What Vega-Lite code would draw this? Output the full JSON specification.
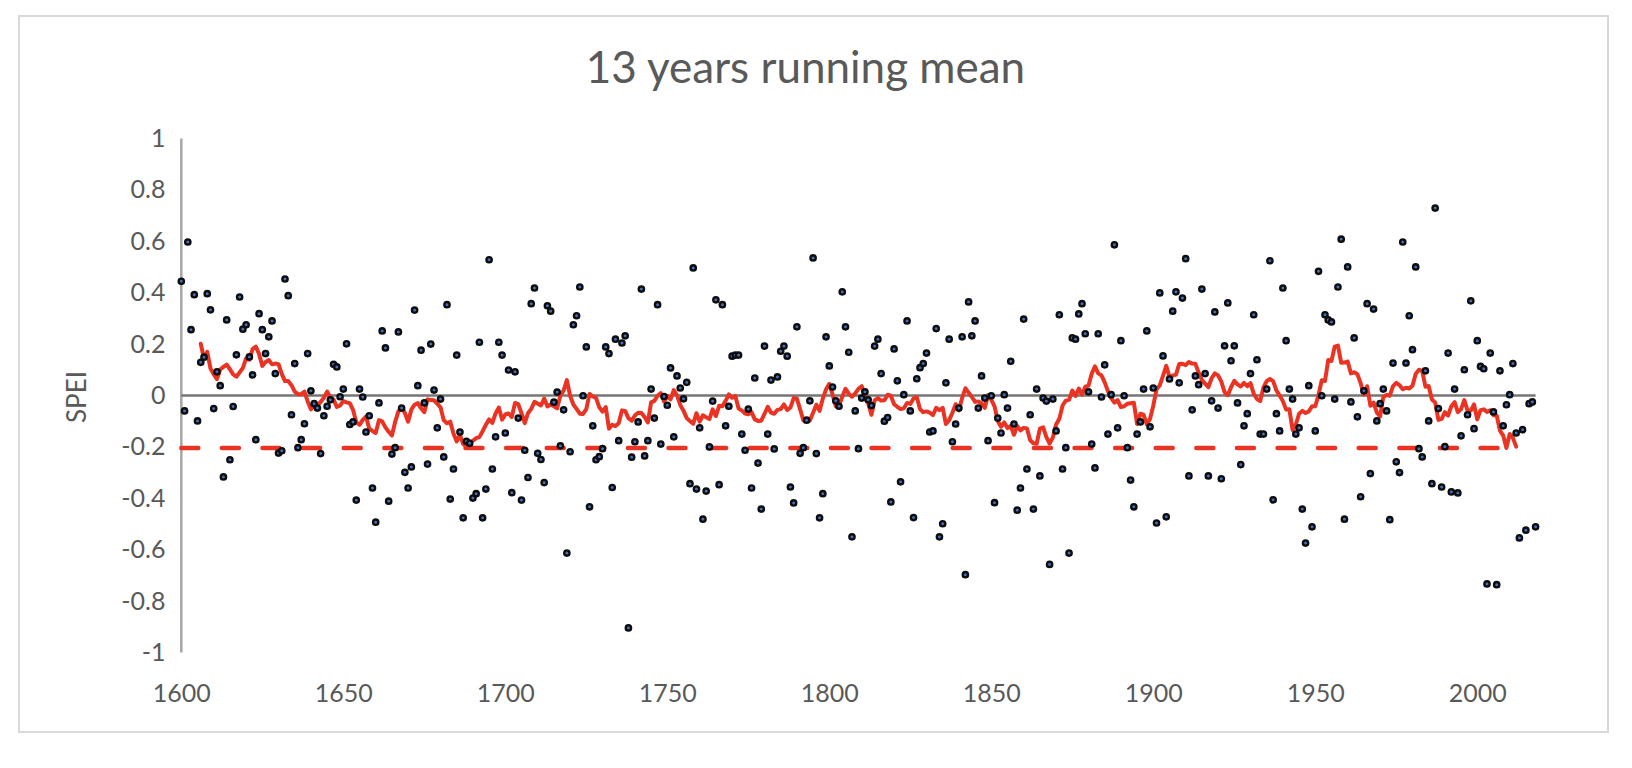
{
  "$schema": "https://vega.github.io/schema/vega-lite/v6.json",
  "autosize": {"type": "none"},
  "padding": {"left": 19, "top": 16, "right": 24, "bottom": 36},
  "width": 1589,
  "height": 716,
  "background": "white",
  "config": {"view": {"stroke": "#d9d9d9", "strokeWidth": 2}, "font": "Lato"},
  "title": {"text": "13 years running mean", "fontSize": 44, "font": "Lato", "fontWeight": "normal", "color": "#595959", "offset": -76, "dx": -8, "anchor": "middle", "frame": "group"},
  "datasets": {
    "spei": [
{"year":1600,"spei":0.444},{"year":1601,"spei":-0.06},{"year":1602,"spei":0.597},{"year":1603,"spei":0.256},{"year":1604,"spei":0.392},{"year":1605,"spei":-0.099},{"year":1606,"spei":0.129},{"year":1607,"spei":0.149},{"year":1608,"spei":0.396},{"year":1609,"spei":0.333},
{"year":1610,"spei":-0.051},{"year":1611,"spei":0.092},{"year":1612,"spei":0.038},{"year":1613,"spei":-0.317},{"year":1614,"spei":0.294},{"year":1615,"spei":-0.25},{"year":1616,"spei":-0.043},{"year":1617,"spei":0.158},{"year":1618,"spei":0.383},{"year":1619,"spei":0.258},
{"year":1620,"spei":0.275},{"year":1621,"spei":0.15},{"year":1622,"spei":0.08},{"year":1623,"spei":-0.172},{"year":1624,"spei":0.318},{"year":1625,"spei":0.256},{"year":1626,"spei":0.163},{"year":1627,"spei":0.228},{"year":1628,"spei":0.29},{"year":1629,"spei":0.085},
{"year":1630,"spei":-0.224},{"year":1631,"spei":-0.215},{"year":1632,"spei":0.453},{"year":1633,"spei":0.388},{"year":1634,"spei":-0.075},{"year":1635,"spei":0.124},{"year":1636,"spei":-0.203},{"year":1637,"spei":-0.172},{"year":1638,"spei":-0.11},{"year":1639,"spei":0.163},
{"year":1640,"spei":0.018},{"year":1641,"spei":-0.032},{"year":1642,"spei":-0.049},{"year":1643,"spei":-0.226},{"year":1644,"spei":-0.079},{"year":1645,"spei":-0.042},{"year":1646,"spei":-0.017},{"year":1647,"spei":0.121},{"year":1648,"spei":0.111},{"year":1649,"spei":-0.005},
{"year":1650,"spei":0.025},{"year":1651,"spei":0.201},{"year":1652,"spei":-0.113},{"year":1653,"spei":-0.103},{"year":1654,"spei":-0.407},{"year":1655,"spei":0.025},{"year":1656,"spei":-0.006},{"year":1657,"spei":-0.142},{"year":1658,"spei":-0.079},{"year":1659,"spei":-0.36},
{"year":1660,"spei":-0.493},{"year":1661,"spei":-0.029},{"year":1662,"spei":0.251},{"year":1663,"spei":0.185},{"year":1664,"spei":-0.411},{"year":1665,"spei":-0.228},{"year":1666,"spei":-0.203},{"year":1667,"spei":0.247},{"year":1668,"spei":-0.049},{"year":1669,"spei":-0.299},
{"year":1670,"spei":-0.36},{"year":1671,"spei":-0.278},{"year":1672,"spei":0.332},{"year":1673,"spei":0.038},{"year":1674,"spei":0.176},{"year":1675,"spei":-0.029},{"year":1676,"spei":-0.267},{"year":1677,"spei":0.2},{"year":1678,"spei":0.021},{"year":1679,"spei":-0.126},
{"year":1680,"spei":-0.014},{"year":1681,"spei":-0.239},{"year":1682,"spei":0.353},{"year":1683,"spei":-0.403},{"year":1684,"spei":-0.286},{"year":1685,"spei":0.157},{"year":1686,"spei":-0.142},{"year":1687,"spei":-0.476},{"year":1688,"spei":-0.178},{"year":1689,"spei":-0.186},
{"year":1690,"spei":-0.399},{"year":1691,"spei":-0.382},{"year":1692,"spei":0.207},{"year":1693,"spei":-0.476},{"year":1694,"spei":-0.364},{"year":1695,"spei":0.528},{"year":1696,"spei":-0.286},{"year":1697,"spei":-0.161},{"year":1698,"spei":0.207},{"year":1699,"spei":0.157},
{"year":1700,"spei":-0.146},{"year":1701,"spei":0.099},{"year":1702,"spei":-0.378},{"year":1703,"spei":0.092},{"year":1704,"spei":-0.088},{"year":1705,"spei":-0.407},{"year":1706,"spei":-0.213},{"year":1707,"spei":-0.319},{"year":1708,"spei":0.357},{"year":1709,"spei":0.418},
{"year":1710,"spei":-0.225},{"year":1711,"spei":-0.249},{"year":1712,"spei":-0.339},{"year":1713,"spei":0.349},{"year":1714,"spei":0.328},{"year":1715,"spei":-0.026},{"year":1716,"spei":0.013},{"year":1717,"spei":-0.196},{"year":1718,"spei":-0.056},{"year":1719,"spei":-0.613},
{"year":1720,"spei":-0.219},{"year":1721,"spei":0.275},{"year":1722,"spei":0.31},{"year":1723,"spei":0.422},{"year":1724,"spei":-0.001},{"year":1725,"spei":0.189},{"year":1726,"spei":-0.433},{"year":1727,"spei":-0.118},{"year":1728,"spei":-0.25},{"year":1729,"spei":-0.238},
{"year":1730,"spei":-0.207},{"year":1731,"spei":0.189},{"year":1732,"spei":0.163},{"year":1733,"spei":-0.358},{"year":1734,"spei":0.219},{"year":1735,"spei":-0.176},{"year":1736,"spei":0.204},{"year":1737,"spei":0.232},{"year":1738,"spei":-0.904},{"year":1739,"spei":-0.24},
{"year":1740,"spei":-0.18},{"year":1741,"spei":-0.103},{"year":1742,"spei":0.414},{"year":1743,"spei":-0.235},{"year":1744,"spei":-0.176},{"year":1745,"spei":0.025},{"year":1746,"spei":-0.088},{"year":1747,"spei":0.353},{"year":1748,"spei":-0.189},{"year":1749,"spei":-0.004},
{"year":1750,"spei":-0.038},{"year":1751,"spei":0.107},{"year":1752,"spei":-0.161},{"year":1753,"spei":0.076},{"year":1754,"spei":0.029},{"year":1755,"spei":-0.013},{"year":1756,"spei":0.051},{"year":1757,"spei":-0.343},{"year":1758,"spei":0.496},{"year":1759,"spei":-0.364},
{"year":1760,"spei":-0.126},{"year":1761,"spei":-0.481},{"year":1762,"spei":-0.372},{"year":1763,"spei":-0.2},{"year":1764,"spei":-0.022},{"year":1765,"spei":0.372},{"year":1766,"spei":-0.347},{"year":1767,"spei":0.353},{"year":1768,"spei":-0.118},{"year":1769,"spei":-0.042},
{"year":1770,"spei":0.153},{"year":1771,"spei":0.157},{"year":1772,"spei":0.157},{"year":1773,"spei":-0.15},{"year":1774,"spei":-0.213},{"year":1775,"spei":-0.053},{"year":1776,"spei":-0.36},{"year":1777,"spei":0.068},{"year":1778,"spei":-0.263},{"year":1779,"spei":-0.442},
{"year":1780,"spei":0.192},{"year":1781,"spei":-0.15},{"year":1782,"spei":0.06},{"year":1783,"spei":-0.208},{"year":1784,"spei":0.072},{"year":1785,"spei":0.172},{"year":1786,"spei":0.192},{"year":1787,"spei":0.153},{"year":1788,"spei":-0.356},{"year":1789,"spei":-0.418},
{"year":1790,"spei":0.267},{"year":1791,"spei":-0.225},{"year":1792,"spei":-0.203},{"year":1793,"spei":-0.096},{"year":1794,"spei":-0.021},{"year":1795,"spei":0.535},{"year":1796,"spei":-0.226},{"year":1797,"spei":-0.476},{"year":1798,"spei":-0.382},{"year":1799,"spei":0.228},
{"year":1800,"spei":0.115},{"year":1801,"spei":0.033},{"year":1802,"spei":-0.021},{"year":1803,"spei":-0.042},{"year":1804,"spei":0.403},{"year":1805,"spei":0.267},{"year":1806,"spei":0.168},{"year":1807,"spei":-0.55},{"year":1808,"spei":-0.06},{"year":1809,"spei":-0.207},
{"year":1810,"spei":-0.01},{"year":1811,"spei":0.014},{"year":1812,"spei":-0.017},{"year":1813,"spei":-0.039},{"year":1814,"spei":0.192},{"year":1815,"spei":0.219},{"year":1816,"spei":0.085},{"year":1817,"spei":-0.1},{"year":1818,"spei":-0.086},{"year":1819,"spei":-0.414},
{"year":1820,"spei":0.181},{"year":1821,"spei":0.057},{"year":1822,"spei":-0.336},{"year":1823,"spei":0.003},{"year":1824,"spei":0.29},{"year":1825,"spei":-0.06},{"year":1826,"spei":-0.475},{"year":1827,"spei":0.065},{"year":1828,"spei":0.108},{"year":1829,"spei":0.124},
{"year":1830,"spei":0.165},{"year":1831,"spei":-0.142},{"year":1832,"spei":-0.138},{"year":1833,"spei":0.26},{"year":1834,"spei":-0.55},{"year":1835,"spei":-0.499},{"year":1836,"spei":0.049},{"year":1837,"spei":0.219},{"year":1838,"spei":-0.18},{"year":1839,"spei":-0.111},
{"year":1840,"spei":-0.049},{"year":1841,"spei":0.228},{"year":1842,"spei":-0.697},{"year":1843,"spei":0.364},{"year":1844,"spei":0.232},{"year":1845,"spei":0.29},{"year":1846,"spei":-0.049},{"year":1847,"spei":0.076},{"year":1848,"spei":-0.01},{"year":1849,"spei":-0.176},
{"year":1850,"spei":-0.001},{"year":1851,"spei":-0.417},{"year":1852,"spei":-0.088},{"year":1853,"spei":-0.146},{"year":1854,"spei":0.003},{"year":1855,"spei":-0.049},{"year":1856,"spei":0.133},{"year":1857,"spei":-0.111},{"year":1858,"spei":-0.446},{"year":1859,"spei":-0.36},
{"year":1860,"spei":0.297},{"year":1861,"spei":-0.286},{"year":1862,"spei":-0.075},{"year":1863,"spei":-0.442},{"year":1864,"spei":0.025},{"year":1865,"spei":-0.313},{"year":1866,"spei":-0.01},{"year":1867,"spei":-0.022},{"year":1868,"spei":-0.657},{"year":1869,"spei":-0.014},
{"year":1870,"spei":-0.138},{"year":1871,"spei":0.314},{"year":1872,"spei":-0.286},{"year":1873,"spei":-0.203},{"year":1874,"spei":-0.613},{"year":1875,"spei":0.224},{"year":1876,"spei":0.219},{"year":1877,"spei":0.317},{"year":1878,"spei":0.357},{"year":1879,"spei":0.24},
{"year":1880,"spei":0.014},{"year":1881,"spei":-0.189},{"year":1882,"spei":-0.282},{"year":1883,"spei":0.24},{"year":1884,"spei":-0.006},{"year":1885,"spei":0.119},{"year":1886,"spei":-0.15},{"year":1887,"spei":0.003},{"year":1888,"spei":0.586},{"year":1889,"spei":-0.126},
{"year":1890,"spei":0.213},{"year":1891,"spei":-0.001},{"year":1892,"spei":-0.203},{"year":1893,"spei":-0.329},{"year":1894,"spei":-0.433},{"year":1895,"spei":-0.15},{"year":1896,"spei":-0.103},{"year":1897,"spei":0.025},{"year":1898,"spei":0.251},{"year":1899,"spei":-0.122},
{"year":1900,"spei":0.029},{"year":1901,"spei":-0.496},{"year":1902,"spei":0.399},{"year":1903,"spei":0.154},{"year":1904,"spei":-0.472},{"year":1905,"spei":0.064},{"year":1906,"spei":0.328},{"year":1907,"spei":0.403},{"year":1908,"spei":0.049},{"year":1909,"spei":0.379},
{"year":1910,"spei":0.532},{"year":1911,"spei":-0.313},{"year":1912,"spei":-0.056},{"year":1913,"spei":0.076},{"year":1914,"spei":0.042},{"year":1915,"spei":0.414},{"year":1916,"spei":0.085},{"year":1917,"spei":-0.313},{"year":1918,"spei":-0.021},{"year":1919,"spei":0.325},
{"year":1920,"spei":-0.049},{"year":1921,"spei":-0.324},{"year":1922,"spei":0.193},{"year":1923,"spei":0.36},{"year":1924,"spei":0.135},{"year":1925,"spei":0.193},{"year":1926,"spei":-0.029},{"year":1927,"spei":-0.269},{"year":1928,"spei":-0.118},{"year":1929,"spei":-0.071},
{"year":1930,"spei":0.085},{"year":1931,"spei":0.314},{"year":1932,"spei":0.139},{"year":1933,"spei":-0.15},{"year":1934,"spei":-0.15},{"year":1935,"spei":0.025},{"year":1936,"spei":0.524},{"year":1937,"spei":-0.406},{"year":1938,"spei":-0.071},{"year":1939,"spei":-0.138},
{"year":1940,"spei":0.418},{"year":1941,"spei":0.213},{"year":1942,"spei":0.025},{"year":1943,"spei":-0.014},{"year":1944,"spei":-0.15},{"year":1945,"spei":-0.126},{"year":1946,"spei":-0.442},{"year":1947,"spei":-0.574},{"year":1948,"spei":0.038},{"year":1949,"spei":-0.511},
{"year":1950,"spei":-0.138},{"year":1951,"spei":0.483},{"year":1952,"spei":-0.001},{"year":1953,"spei":0.314},{"year":1954,"spei":0.294},{"year":1955,"spei":0.286},{"year":1956,"spei":-0.014},{"year":1957,"spei":0.422},{"year":1958,"spei":0.608},{"year":1959,"spei":-0.481},
{"year":1960,"spei":0.5},{"year":1961,"spei":-0.025},{"year":1962,"spei":0.224},{"year":1963,"spei":-0.083},{"year":1964,"spei":-0.394},{"year":1965,"spei":0.018},{"year":1966,"spei":0.357},{"year":1967,"spei":-0.304},{"year":1968,"spei":0.336},{"year":1969,"spei":-0.099},
{"year":1970,"spei":-0.032},{"year":1971,"spei":0.025},{"year":1972,"spei":-0.06},{"year":1973,"spei":-0.483},{"year":1974,"spei":0.126},{"year":1975,"spei":-0.258},{"year":1976,"spei":-0.3},{"year":1977,"spei":0.597},{"year":1978,"spei":0.126},{"year":1979,"spei":0.31},
{"year":1980,"spei":0.178},{"year":1981,"spei":0.5},{"year":1982,"spei":-0.207},{"year":1983,"spei":-0.239},{"year":1984,"spei":0.096},{"year":1985,"spei":-0.099},{"year":1986,"spei":-0.343},{"year":1987,"spei":0.729},{"year":1988,"spei":-0.051},{"year":1989,"spei":-0.356},
{"year":1990,"spei":-0.199},{"year":1991,"spei":0.165},{"year":1992,"spei":-0.375},{"year":1993,"spei":0.025},{"year":1994,"spei":-0.379},{"year":1995,"spei":-0.157},{"year":1996,"spei":0.1},{"year":1997,"spei":-0.075},{"year":1998,"spei":0.368},{"year":1999,"spei":-0.129},
{"year":2000,"spei":0.213},{"year":2001,"spei":0.113},{"year":2002,"spei":0.104},{"year":2003,"spei":-0.733},{"year":2004,"spei":0.165},{"year":2005,"spei":-0.064},{"year":2006,"spei":-0.736},{"year":2007,"spei":0.096},{"year":2008,"spei":-0.118},{"year":2009,"spei":-0.036},
{"year":2010,"spei":0.003},{"year":2011,"spei":0.124},{"year":2012,"spei":-0.146},{"year":2013,"spei":-0.554},{"year":2014,"spei":-0.133},{"year":2015,"spei":-0.524},{"year":2016,"spei":-0.032},{"year":2017,"spei":-0.025},{"year":2018,"spei":-0.511}
    ],
    "mean": [
{"year":1606,"mean":0.201},{"year":1607,"mean":0.143},{"year":1608,"mean":0.17},{"year":1609,"mean":0.105},{"year":1610,"mean":0.082},{"year":1611,"mean":0.064},{"year":1612,"mean":0.101},{"year":1613,"mean":0.111},{"year":1614,"mean":0.12},{"year":1615,"mean":0.102},
{"year":1616,"mean":0.082},{"year":1617,"mean":0.073},{"year":1618,"mean":0.09},{"year":1619,"mean":0.107},{"year":1620,"mean":0.144},{"year":1621,"mean":0.139},{"year":1622,"mean":0.18},{"year":1623,"mean":0.19},{"year":1624,"mean":0.161},{"year":1625,"mean":0.115},
{"year":1626,"mean":0.13},{"year":1627,"mean":0.138},{"year":1628,"mean":0.121},{"year":1629,"mean":0.124},{"year":1630,"mean":0.122},{"year":1631,"mean":0.084},{"year":1632,"mean":0.056},{"year":1633,"mean":0.056},{"year":1634,"mean":0.04},{"year":1635,"mean":0.015},
{"year":1636,"mean":0.005},{"year":1637,"mean":0.005},{"year":1638,"mean":0.015},{"year":1639,"mean":-0.023},{"year":1640,"mean":-0.054},{"year":1641,"mean":-0.039},{"year":1642,"mean":-0.04},{"year":1643,"mean":-0.025},{"year":1644,"mean":-0.009},{"year":1645,"mean":0.015},
{"year":1646,"mean":-0.007},{"year":1647,"mean":-0.016},{"year":1648,"mean":-0.045},{"year":1649,"mean":-0.039},{"year":1650,"mean":-0.022},{"year":1651,"mean":-0.027},{"year":1652,"mean":-0.03},{"year":1653,"mean":-0.056},{"year":1654,"mean":-0.104},{"year":1655,"mean":-0.114},
{"year":1656,"mean":-0.095},{"year":1657,"mean":-0.082},{"year":1658,"mean":-0.129},{"year":1659,"mean":-0.138},{"year":1660,"mean":-0.146},{"year":1661,"mean":-0.096},{"year":1662,"mean":-0.101},{"year":1663,"mean":-0.124},{"year":1664,"mean":-0.141},{"year":1665,"mean":-0.156},
{"year":1666,"mean":-0.103},{"year":1667,"mean":-0.062},{"year":1668,"mean":-0.046},{"year":1669,"mean":-0.068},{"year":1670,"mean":-0.102},{"year":1671,"mean":-0.055},{"year":1672,"mean":-0.036},{"year":1673,"mean":-0.03},{"year":1674,"mean":-0.05},{"year":1675,"mean":-0.065},
{"year":1676,"mean":-0.015},{"year":1677,"mean":-0.018},{"year":1678,"mean":-0.019},{"year":1679,"mean":-0.032},{"year":1680,"mean":-0.046},{"year":1681,"mean":-0.096},{"year":1682,"mean":-0.108},{"year":1683,"mean":-0.102},{"year":1684,"mean":-0.148},{"year":1685,"mean":-0.179},
{"year":1686,"mean":-0.153},{"year":1687,"mean":-0.189},{"year":1688,"mean":-0.198},{"year":1689,"mean":-0.185},{"year":1690,"mean":-0.176},{"year":1691,"mean":-0.166},{"year":1692,"mean":-0.162},{"year":1693,"mean":-0.139},{"year":1694,"mean":-0.114},{"year":1695,"mean":-0.093},
{"year":1696,"mean":-0.107},{"year":1697,"mean":-0.07},{"year":1698,"mean":-0.047},{"year":1699,"mean":-0.094},{"year":1700,"mean":-0.074},{"year":1701,"mean":-0.07},{"year":1702,"mean":-0.084},{"year":1703,"mean":-0.029},{"year":1704,"mean":-0.034},{"year":1705,"mean":-0.069},
{"year":1706,"mean":-0.108},{"year":1707,"mean":-0.069},{"year":1708,"mean":-0.052},{"year":1709,"mean":-0.025},{"year":1710,"mean":-0.031},{"year":1711,"mean":-0.039},{"year":1712,"mean":-0.012},{"year":1713,"mean":-0.043},{"year":1714,"mean":-0.035},{"year":1715,"mean":-0.042},
{"year":1716,"mean":-0.05},{"year":1717,"mean":0.0},{"year":1718,"mean":0.019},{"year":1719,"mean":0.06},{"year":1720,"mean":-0.001},{"year":1721,"mean":-0.035},{"year":1722,"mean":-0.052},{"year":1723,"mean":-0.071},{"year":1724,"mean":-0.072},{"year":1725,"mean":-0.053},
{"year":1726,"mean":0.006},{"year":1727,"mean":-0.004},{"year":1728,"mean":-0.009},{"year":1729,"mean":-0.046},{"year":1730,"mean":-0.063},{"year":1731,"mean":-0.045},{"year":1732,"mean":-0.129},{"year":1733,"mean":-0.114},{"year":1734,"mean":-0.119},{"year":1735,"mean":-0.108},
{"year":1736,"mean":-0.058},{"year":1737,"mean":-0.06},{"year":1738,"mean":-0.088},{"year":1739,"mean":-0.098},{"year":1740,"mean":-0.078},{"year":1741,"mean":-0.067},{"year":1742,"mean":-0.068},{"year":1743,"mean":-0.084},{"year":1744,"mean":-0.105},{"year":1745,"mean":-0.027},
{"year":1746,"mean":-0.021},{"year":1747,"mean":-0.001},{"year":1748,"mean":0.009},{"year":1749,"mean":-0.024},{"year":1750,"mean":-0.002},{"year":1751,"mean":-0.015},{"year":1752,"mean":0.021},{"year":1753,"mean":0.0},{"year":1754,"mean":-0.037},{"year":1755,"mean":-0.059},
{"year":1756,"mean":-0.088},{"year":1757,"mean":-0.1},{"year":1758,"mean":-0.11},{"year":1759,"mean":-0.069},{"year":1760,"mean":-0.102},{"year":1761,"mean":-0.077},{"year":1762,"mean":-0.085},{"year":1763,"mean":-0.092},{"year":1764,"mean":-0.054},{"year":1765,"mean":-0.08},
{"year":1766,"mean":-0.04},{"year":1767,"mean":-0.042},{"year":1768,"mean":-0.021},{"year":1769,"mean":0.004},{"year":1770,"mean":-0.009},{"year":1771,"mean":-0.002},{"year":1772,"mean":-0.051},{"year":1773,"mean":-0.058},{"year":1774,"mean":-0.07},{"year":1775,"mean":-0.073},
{"year":1776,"mean":-0.065},{"year":1777,"mean":-0.093},{"year":1778,"mean":-0.099},{"year":1779,"mean":-0.098},{"year":1780,"mean":-0.072},{"year":1781,"mean":-0.044},{"year":1782,"mean":-0.067},{"year":1783,"mean":-0.071},{"year":1784,"mean":-0.056},{"year":1785,"mean":-0.053},
{"year":1786,"mean":-0.035},{"year":1787,"mean":-0.057},{"year":1788,"mean":-0.047},{"year":1789,"mean":-0.01},{"year":1790,"mean":-0.012},{"year":1791,"mean":-0.054},{"year":1792,"mean":-0.097},{"year":1793,"mean":-0.094},{"year":1794,"mean":-0.097},{"year":1795,"mean":-0.067},
{"year":1796,"mean":-0.036},{"year":1797,"mean":-0.06},{"year":1798,"mean":-0.012},{"year":1799,"mean":0.024},{"year":1800,"mean":0.045},{"year":1801,"mean":0.004},{"year":1802,"mean":-0.042},{"year":1803,"mean":-0.04},{"year":1804,"mean":-0.005},{"year":1805,"mean":0.026},
{"year":1806,"mean":0.007},{"year":1807,"mean":-0.005},{"year":1808,"mean":0.008},{"year":1809,"mean":0.026},{"year":1810,"mean":0.036},{"year":1811,"mean":-0.003},{"year":1812,"mean":-0.03},{"year":1813,"mean":-0.075},{"year":1814,"mean":-0.019},{"year":1815,"mean":-0.01},
{"year":1816,"mean":-0.02},{"year":1817,"mean":-0.019},{"year":1818,"mean":0.003},{"year":1819,"mean":-0.001},{"year":1820,"mean":-0.034},{"year":1821,"mean":-0.044},{"year":1822,"mean":-0.053},{"year":1823,"mean":-0.05},{"year":1824,"mean":-0.029},{"year":1825,"mean":-0.033},
{"year":1826,"mean":-0.012},{"year":1827,"mean":-0.006},{"year":1828,"mean":-0.053},{"year":1829,"mean":-0.065},{"year":1830,"mean":-0.062},{"year":1831,"mean":-0.067},{"year":1832,"mean":-0.076},{"year":1833,"mean":-0.048},{"year":1834,"mean":-0.057},{"year":1835,"mean":-0.048},
{"year":1836,"mean":-0.111},{"year":1837,"mean":-0.096},{"year":1838,"mean":-0.067},{"year":1839,"mean":-0.034},{"year":1840,"mean":-0.058},{"year":1841,"mean":-0.01},{"year":1842,"mean":0.028},{"year":1843,"mean":0.011},{"year":1844,"mean":-0.006},{"year":1845,"mean":-0.025},
{"year":1846,"mean":-0.023},{"year":1847,"mean":-0.03},{"year":1848,"mean":-0.048},{"year":1849,"mean":0.002},{"year":1850,"mean":-0.016},{"year":1851,"mean":-0.042},{"year":1852,"mean":-0.099},{"year":1853,"mean":-0.122},{"year":1854,"mean":-0.105},{"year":1855,"mean":-0.127},
{"year":1856,"mean":-0.119},{"year":1857,"mean":-0.153},{"year":1858,"mean":-0.119},{"year":1859,"mean":-0.136},{"year":1860,"mean":-0.126},{"year":1861,"mean":-0.128},{"year":1862,"mean":-0.174},{"year":1863,"mean":-0.186},{"year":1864,"mean":-0.188},{"year":1865,"mean":-0.129},
{"year":1866,"mean":-0.124},{"year":1867,"mean":-0.162},{"year":1868,"mean":-0.187},{"year":1869,"mean":-0.164},{"year":1870,"mean":-0.113},{"year":1871,"mean":-0.091},{"year":1872,"mean":-0.039},{"year":1873,"mean":-0.02},{"year":1874,"mean":-0.017},{"year":1875,"mean":0.019},
{"year":1876,"mean":-0.002},{"year":1877,"mean":0.027},{"year":1878,"mean":0.003},{"year":1879,"mean":0.034},{"year":1880,"mean":0.038},{"year":1881,"mean":0.085},{"year":1882,"mean":0.113},{"year":1883,"mean":0.086},{"year":1884,"mean":0.078},{"year":1885,"mean":0.051},
{"year":1886,"mean":0.017},{"year":1887,"mean":-0.01},{"year":1888,"mean":-0.028},{"year":1889,"mean":-0.018},{"year":1890,"mean":-0.045},{"year":1891,"mean":-0.042},{"year":1892,"mean":-0.032},{"year":1893,"mean":-0.03},{"year":1894,"mean":-0.028},{"year":1895,"mean":-0.111},
{"year":1896,"mean":-0.071},{"year":1897,"mean":-0.075},{"year":1898,"mean":-0.112},{"year":1899,"mean":-0.091},{"year":1900,"mean":-0.04},{"year":1901,"mean":0.024},{"year":1902,"mean":0.039},{"year":1903,"mean":0.076},{"year":1904,"mean":0.115},{"year":1905,"mean":0.072},
{"year":1906,"mean":0.077},{"year":1907,"mean":0.081},{"year":1908,"mean":0.122},{"year":1909,"mean":0.123},{"year":1910,"mean":0.118},{"year":1911,"mean":0.13},{"year":1912,"mean":0.124},{"year":1913,"mean":0.123},{"year":1914,"mean":0.089},{"year":1915,"mean":0.06},
{"year":1916,"mean":0.046},{"year":1917,"mean":0.032},{"year":1918,"mean":0.067},{"year":1919,"mean":0.086},{"year":1920,"mean":0.078},{"year":1921,"mean":0.054},{"year":1922,"mean":0.013},{"year":1923,"mean":0.001},{"year":1924,"mean":0.032},{"year":1925,"mean":0.057},
{"year":1926,"mean":0.043},{"year":1927,"mean":0.035},{"year":1928,"mean":0.049},{"year":1929,"mean":0.036},{"year":1930,"mean":0.048},{"year":1931,"mean":0.007},{"year":1932,"mean":-0.014},{"year":1933,"mean":-0.022},{"year":1934,"mean":0.031},{"year":1935,"mean":0.056},
{"year":1936,"mean":0.064},{"year":1937,"mean":0.056},{"year":1938,"mean":0.02},{"year":1939,"mean":0.0},{"year":1940,"mean":-0.022},{"year":1941,"mean":-0.055},{"year":1942,"mean":-0.054},{"year":1943,"mean":-0.134},{"year":1944,"mean":-0.113},{"year":1945,"mean":-0.071},
{"year":1946,"mean":-0.06},{"year":1947,"mean":-0.068},{"year":1948,"mean":-0.062},{"year":1949,"mean":-0.042},{"year":1950,"mean":-0.042},{"year":1951,"mean":0.002},{"year":1952,"mean":0.059},{"year":1953,"mean":0.056},{"year":1954,"mean":0.138},{"year":1955,"mean":0.134},
{"year":1956,"mean":0.19},{"year":1957,"mean":0.194},{"year":1958,"mean":0.127},{"year":1959,"mean":0.128},{"year":1960,"mean":0.132},{"year":1961,"mean":0.086},{"year":1962,"mean":0.09},{"year":1963,"mean":0.083},{"year":1964,"mean":0.048},{"year":1965,"mean":0.003},
{"year":1966,"mean":0.036},{"year":1967,"mean":-0.04},{"year":1968,"mean":-0.028},{"year":1969,"mean":-0.066},{"year":1970,"mean":-0.082},{"year":1971,"mean":-0.006},{"year":1972,"mean":0.002},{"year":1973,"mean":-0.001},{"year":1974,"mean":0.036},{"year":1975,"mean":0.049},
{"year":1976,"mean":0.04},{"year":1977,"mean":0.024},{"year":1978,"mean":0.03},{"year":1979,"mean":0.027},{"year":1980,"mean":0.038},{"year":1981,"mean":0.084},{"year":1982,"mean":0.1},{"year":1983,"mean":0.096},{"year":1984,"mean":0.034},{"year":1985,"mean":0.037},
{"year":1986,"mean":-0.016},{"year":1987,"mean":-0.027},{"year":1988,"mean":-0.095},{"year":1989,"mean":-0.091},{"year":1990,"mean":-0.065},{"year":1991,"mean":-0.078},{"year":1992,"mean":-0.042},{"year":1993,"mean":-0.026},{"year":1994,"mean":-0.065},{"year":1995,"mean":-0.053},
{"year":1996,"mean":-0.018},{"year":1997,"mean":-0.059},{"year":1998,"mean":-0.059},{"year":1999,"mean":-0.035},{"year":2000,"mean":-0.093},{"year":2001,"mean":-0.057},{"year":2002,"mean":-0.054},{"year":2003,"mean":-0.064},{"year":2004,"mean":-0.058},{"year":2005,"mean":-0.077},
{"year":2006,"mean":-0.078},{"year":2007,"mean":-0.137},{"year":2008,"mean":-0.156},{"year":2009,"mean":-0.204},{"year":2010,"mean":-0.15},{"year":2011,"mean":-0.165},{"year":2012,"mean":-0.199}
    ]
  },
  "layer": [
    {
      "data": {"name": "spei"},
      "mark": {"type": "point", "opacity": 0},
      "encoding": {
        "x": {
          "field": "year", "type": "quantitative", "title": null,
          "scale": {"domain": [1549.9, 2040.35], "nice": false, "zero": false},
          "axis": {"values": [1600, 1650, 1700, 1750, 1800, 1850, 1900, 1950, 2000], "format": "d", "domain": false, "ticks": false, "tickSize": 0, "grid": false, "offset": -31, "labelPadding": 0, "labelBaseline": "alphabetic", "labelFontSize": 25, "labelColor": "#595959", "labelFont": "Lato", "labelFlush": false, "labelOverlap": false}
        },
        "y": {
          "field": "spei", "type": "quantitative", "title": "SPEI",
          "scale": {"domain": [-1.309, 1.476], "nice": false, "zero": false},
          "axis": {"values": [-1, -0.8, -0.6, -0.4, -0.2, 0, 0.2, 0.4, 0.6, 0.8, 1], "labelExpr": "toString(round(datum.value*10)/10)", "domain": false, "ticks": false, "tickSize": 0, "grid": false, "titleFontSize": 26, "titleFont": "Lato", "titleFontWeight": "normal", "titleColor": "#595959", "titleX": -104, "titleY": 380.5, "titleAngle": 270, "titleBaseline": "middle", "titleAlign": "center", "offset": -162, "labelPadding": 16, "labelFontSize": 25, "labelColor": "#595959", "labelFont": "Lato", "labelOverlap": false, "labelFlush": false}
        }
      }
    },
    {
      "data": {"values": [{}]},
      "mark": {"type": "rule", "color": "#a6a6a6", "strokeWidth": 2.5},
      "encoding": {
        "x": {"datum": 1600, "type": "quantitative", "title": null},
        "y": {"datum": -1, "type": "quantitative", "title": "SPEI"},
        "y2": {"datum": 1}
      }
    },
    {
      "data": {"values": [{}]},
      "mark": {"type": "rule", "color": "#767676", "strokeWidth": 2.5},
      "encoding": {
        "x": {"datum": 1600, "type": "quantitative", "title": null},
        "x2": {"datum": 2018},
        "y": {"datum": 0, "type": "quantitative", "title": "SPEI"}
      }
    },
    {
      "data": {"values": [{}]},
      "mark": {"type": "rule", "color": "#ea3323", "strokeWidth": 4.5, "strokeDash": [17, 23.6], "strokeCap": "round"},
      "encoding": {
        "x": {"datum": 1600, "type": "quantitative", "title": null},
        "x2": {"datum": 2012},
        "y": {"datum": -0.204, "type": "quantitative", "title": "SPEI"}
      }
    },
    {
      "data": {"name": "mean"},
      "mark": {"type": "line", "color": "#ea3323", "strokeWidth": 4, "strokeJoin": "round", "strokeCap": "round"},
      "encoding": {
        "x": {"field": "year", "type": "quantitative", "title": null},
        "y": {"field": "mean", "type": "quantitative", "title": "SPEI"}
      }
    },
    {
      "data": {"name": "spei"},
      "mark": {"type": "point", "shape": "circle", "filled": true, "size": 28, "fill": "#4472c4", "stroke": "#0d0d0d", "strokeWidth": 2.4, "opacity": 1},
      "encoding": {
        "x": {"field": "year", "type": "quantitative", "title": null},
        "y": {"field": "spei", "type": "quantitative", "title": "SPEI"}
      }
    }
  ]
}
